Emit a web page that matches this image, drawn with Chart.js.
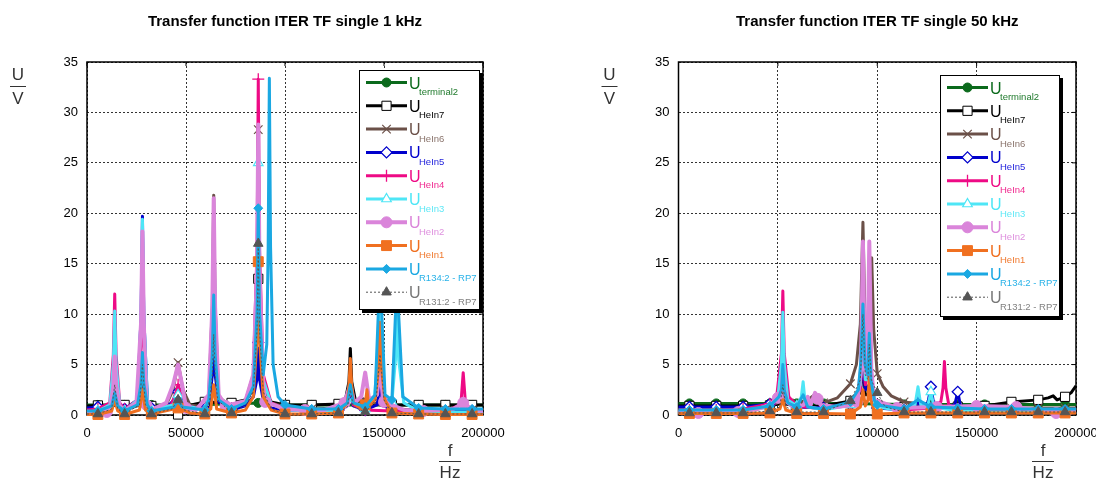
<!DOCTYPE html>
<html>
<head>
<meta charset="utf-8">
<title>Transfer function ITER TF single</title>
<script src="https://cdn.jsdelivr.net/npm/chart.js@4.4.1/dist/chart.umd.min.js"></script>
<style>
  html, body { margin: 0; padding: 0; background: #ffffff; }
  #page { position: relative; width: 1096px; height: 479px; overflow: hidden; }
  canvas { position: absolute; top: 0; }
  #c1k { left: 0; }
  #c50k { left: 548px; }
</style>
</head>
<body>
<div id="page">
  <canvas id="c1k" width="548" height="479"></canvas>
  <canvas id="c50k" width="548" height="479"></canvas>
</div>
<script>
const FONT = '"Liberation Sans", Arial, Helvetica, sans-serif';

// ---- axes ----
const freqTicks = [0, 50000, 100000, 150000, 200000];
const voltTicks = [0, 5, 10, 15, 20, 25, 30, 35];
const chartTitles = ['Transfer function ITER TF single 1 kHz', 'Transfer function ITER TF single 50 kHz'];
const seriesKeys = ['terminal2', 'HeIn7', 'HeIn6', 'HeIn5', 'HeIn4', 'HeIn3', 'HeIn2', 'HeIn1', 'R134:2 - RP7', 'R131:2 - RP7'];

// frequencies (Hz) at which the curve markers sit
const markerFreqs = [5500, 19000, 32500, 46000, 59500, 73000, 86500, 100000, 113500, 127000, 140500, 154000, 167500, 181000, 194500];
const markerFreqsHeIn2 = [10000, 30000, 50000, 70000, 90000, 110000, 130000, 150000, 170000, 190000];

// ---- 1 kHz excitation: [f / Hz, U / V] ----
const u1k_terminal2 = [[0,1.0],[5500,1.0],[19000,1.0],[32500,1.0],[46000,1.0],[59500,1.05],[73000,1.1],[86500,1.2],[100000,1.0],[113500,1.0],[127000,1.0],[140500,1.0],[154000,1.0],[167500,1.0],[181000,1.0],[194500,1.0],[200000,1.0]];
const u1k_HeIn7 = [[0,0.9],[5500,0.95],[19000,1.0],[32500,0.9],[44000,0.8],[46000,0.05],[48000,0.8],[59500,1.3],[73000,1.2],[80000,1.5],[84000,2.5],[85900,6.8],[86500,13.5],[87100,6.8],[89000,2.5],[93000,1.3],[100000,1.0],[113500,1.0],[127000,1.1],[130500,1.5],[132300,3.3],[133000,6.6],[133700,3.3],[135500,1.5],[140500,1.2],[154000,1.0],[167500,1.0],[181000,1.0],[194500,1.0],[200000,1.0]];
const u1k_HeIn6 = [[0,0.4],[5500,0.45],[11500,0.9],[13300,1.5],[14000,3.0],[14700,1.5],[16500,0.8],[19000,0.5],[25500,0.9],[27300,2.0],[28000,4.0],[28700,2.0],[30500,0.9],[32500,0.6],[40000,1.0],[43500,2.5],[46000,5.2],[48500,2.5],[52000,1.0],[59500,0.8],[61500,1.8],[63300,10.9],[64000,21.8],[64700,10.9],[66500,1.8],[73000,0.8],[80000,1.2],[84000,2.8],[85900,14.0],[86500,28.3],[87100,14.0],[89000,2.8],[93000,1.2],[100000,0.8],[113500,0.6],[127000,0.7],[131000,1.2],[133000,4.0],[135000,1.2],[140500,1.5],[154000,0.6],[167500,0.5],[181000,0.5],[194500,0.5],[200000,0.5]];
const u1k_HeIn5 = [[0,0.7],[5500,0.8],[11500,1.0],[13300,2.5],[14000,5.0],[14700,2.5],[16500,0.9],[19000,0.6],[25500,1.5],[27300,9.8],[28000,19.7],[28700,9.8],[30500,1.5],[32500,0.7],[41000,0.9],[44000,1.5],[46000,2.3],[48000,1.5],[52000,0.8],[59500,0.6],[62000,1.5],[63300,4.0],[64000,8.0],[64700,4.0],[66500,1.3],[73000,0.5],[80000,0.9],[84000,1.8],[85900,3.6],[86500,7.2],[87100,3.6],[89000,1.5],[93000,0.7],[100000,0.5],[113500,0.4],[127000,0.5],[131500,0.9],[133000,2.0],[134500,0.9],[140500,0.5],[146500,1.0],[148000,3.0],[149500,1.0],[154000,0.5],[167500,0.4],[181000,0.4],[194500,0.4],[200000,0.4]];
const u1k_HeIn4 = [[0,0.5],[5500,0.6],[11500,1.2],[13300,6.0],[14000,12.0],[14700,6.0],[16500,1.2],[19000,0.6],[25500,1.5],[27300,7.0],[28000,14.0],[28700,7.0],[30500,1.4],[32500,0.6],[42500,1.0],[44500,2.0],[46000,3.0],[47500,2.0],[50000,0.9],[59500,0.6],[61500,1.8],[63300,7.5],[64000,15.0],[64700,7.5],[66500,1.6],[73000,0.7],[80000,1.4],[84000,4.0],[85900,16.6],[86500,33.3],[87100,16.6],[89000,4.0],[93000,1.2],[100000,0.6],[113500,0.4],[127000,0.5],[131500,1.0],[133000,3.0],[134500,1.0],[140500,0.5],[154000,0.4],[167500,0.4],[181000,0.4],[188800,1.0],[190000,4.2],[191200,1.0],[194500,0.4],[200000,0.4]];
const u1k_HeIn3 = [[0,0.3],[5500,0.4],[11500,1.0],[13300,5.1],[14000,10.3],[14700,5.1],[16500,1.0],[19000,0.4],[25500,1.5],[27300,9.7],[28000,19.4],[28700,9.7],[30500,1.5],[32500,0.5],[43500,1.0],[46000,2.0],[48500,1.0],[59500,0.5],[61500,1.8],[63300,9.5],[64000,19.0],[64700,9.5],[66500,1.8],[73000,0.6],[80000,1.3],[84000,3.5],[85900,12.5],[86500,25.0],[87100,12.5],[89000,3.5],[93000,1.1],[100000,0.5],[113500,0.4],[127000,0.4],[133000,1.5],[140500,0.6],[145000,1.5],[146800,5.5],[147500,11.0],[148200,5.5],[150500,1.5],[154000,1.3],[155800,5.5],[156600,11.0],[157400,5.5],[160000,1.2],[167500,0.4],[181000,0.3],[194500,0.3],[200000,0.3]];
const u1k_HeIn2 = [[0,0.2],[10000,0.3],[12000,1.0],[13300,2.9],[14000,5.8],[14700,2.9],[16500,0.9],[19000,0.4],[25000,1.2],[27300,9.1],[28000,18.2],[28700,9.1],[30000,1.0],[32500,0.5],[40000,1.2],[43500,3.0],[46000,5.0],[48500,2.5],[50000,0.7],[55000,0.5],[61500,2.0],[63300,10.7],[64000,21.5],[64700,10.7],[66500,2.0],[70000,0.9],[80000,1.4],[84000,4.0],[85900,14.4],[86500,28.8],[87100,14.4],[89000,3.0],[90000,1.3],[100000,0.6],[110000,0.5],[120000,0.5],[130000,1.2],[133000,3.0],[135000,1.2],[138500,1.8],[140500,4.2],[142500,1.5],[146500,2.0],[148000,5.0],[149500,1.5],[150000,1.3],[160000,0.5],[170000,0.4],[185000,0.6],[190000,1.2],[195000,0.5],[200000,0.4]];
const u1k_HeIn1 = [[0,0.05],[5500,0.05],[12500,0.4],[14000,1.5],[15500,0.4],[19000,0.05],[26500,0.5],[28000,2.5],[29500,0.5],[32500,0.1],[46000,0.7],[52000,0.2],[59500,0.1],[62500,0.6],[64000,3.0],[65500,0.6],[73000,0.2],[80000,0.5],[84000,1.8],[85900,7.6],[86500,15.2],[87100,7.6],[89000,1.8],[93000,0.5],[100000,0.1],[113500,0.1],[127000,0.2],[131500,1.2],[132300,2.8],[133000,5.6],[133700,2.8],[134500,1.2],[138500,0.6],[140500,1.0],[141400,2.5],[142300,0.8],[145500,1.5],[147300,4.6],[148000,9.2],[148700,4.6],[150500,1.5],[154000,0.2],[167500,0.1],[181000,0.05],[194500,0.05],[200000,0.05]];
const u1k_R134 = [[0,0.4],[5500,0.4],[12500,0.9],[14000,2.2],[15500,0.9],[19000,0.4],[25500,1.0],[27300,3.1],[28000,6.2],[28700,3.1],[30500,1.0],[32500,0.4],[44000,0.8],[46000,1.5],[48000,0.8],[59500,0.5],[61500,1.5],[63300,6.0],[64000,11.9],[64700,6.0],[66500,1.5],[73000,0.6],[80000,1.2],[84000,2.8],[85900,10.3],[86500,20.5],[87100,10.3],[89000,4.0],[90800,7.0],[91500,16.7],[92100,33.4],[92700,16.7],[94000,5.0],[96500,1.8],[100000,1.0],[113500,0.6],[127000,0.6],[131500,1.2],[133000,3.0],[134500,1.2],[140500,0.8],[145500,2.0],[147300,11.0],[148000,22.0],[148700,11.0],[150500,2.0],[154000,1.5],[155800,10.0],[156600,20.0],[157400,10.0],[159500,1.8],[167500,0.7],[181000,0.6],[194500,0.6],[200000,0.6]];
const u1k_R131 = [[0,0.1],[5500,0.1],[12500,0.6],[14000,3.0],[15500,0.6],[19000,0.1],[26500,1.0],[28000,5.0],[29500,1.0],[32500,0.1],[43000,0.6],[46000,1.5],[49000,0.5],[59500,0.1],[62000,1.5],[63300,4.0],[64000,8.0],[64700,4.0],[66000,1.5],[73000,0.2],[80000,0.9],[84000,2.3],[85900,8.5],[86500,17.0],[87100,8.5],[89000,2.3],[93000,0.6],[100000,0.1],[113500,0.1],[127000,0.2],[131500,0.8],[133000,2.5],[134500,0.8],[140500,0.3],[146000,1.5],[148000,6.0],[150000,1.5],[154000,0.2],[167500,0.1],[181000,0.1],[194500,0.1],[200000,0.1]];

// ---- 50 kHz excitation: [f / Hz, U / V] ----
const u50k_terminal2 = [[0,1.15],[5500,1.15],[19000,1.15],[32500,1.15],[46000,1.15],[59500,1.15],[73000,1.15],[86500,1.15],[100000,1.1],[113500,1.05],[127000,1.05],[140500,1.05],[154000,1.05],[167500,1.05],[181000,1.05],[194500,1.05],[200000,1.05]];
const u50k_HeIn7 = [[0,0.9],[5500,0.9],[19000,0.9],[32500,0.9],[46000,0.95],[51000,1.1],[52500,1.6],[54000,1.1],[59500,0.9],[73000,0.9],[86500,1.4],[91500,2.2],[92800,5.0],[94000,2.0],[96000,2.0],[98000,1.3],[100000,1.0],[113500,0.8],[127000,0.8],[140500,0.8],[154000,0.9],[167500,1.3],[181000,1.5],[186000,1.7],[188500,1.9],[190500,1.5],[194500,1.8],[197500,2.2],[200000,2.9]];
const u50k_HeIn6 = [[0,0.6],[5500,0.6],[19000,0.6],[32500,0.7],[46000,0.9],[51000,1.3],[52500,2.5],[54000,1.3],[59500,1.2],[65000,1.5],[68500,2.0],[73000,1.2],[80000,1.7],[86500,3.1],[89500,5.0],[91500,9.0],[92800,19.1],[94000,8.0],[95300,6.5],[96200,9.0],[97200,15.6],[98200,8.5],[100000,4.1],[103000,2.8],[107000,1.9],[113500,1.3],[127000,1.0],[140500,0.9],[154000,0.7],[167500,0.7],[181000,0.7],[194500,0.7],[200000,0.7]];
const u50k_HeIn5 = [[0,0.8],[5500,0.8],[19000,0.8],[32500,0.8],[46000,1.1],[50500,2.0],[52500,4.0],[54500,1.5],[59500,0.8],[73000,0.7],[86500,1.0],[91500,2.5],[92800,5.2],[94000,2.5],[96000,3.0],[98000,1.2],[100000,0.7],[113500,0.5],[119500,1.0],[120500,2.0],[121500,0.8],[125500,1.2],[127000,2.8],[128500,1.0],[133500,0.8],[139000,1.0],[140500,2.3],[142000,0.8],[154000,0.4],[167500,0.4],[181000,0.4],[194500,0.4],[200000,0.4]];
const u50k_HeIn4 = [[0,0.5],[5500,0.5],[19000,0.5],[32500,0.6],[46000,1.1],[49500,2.0],[51800,6.1],[52500,12.3],[53200,6.1],[55500,1.8],[59500,0.9],[73000,0.6],[86500,1.2],[91500,2.5],[92800,7.0],[94000,3.0],[95300,4.3],[96000,8.7],[96700,4.3],[98500,1.5],[100000,1.0],[113500,0.5],[127000,0.7],[132000,1.3],[133100,2.7],[133800,5.3],[134500,2.7],[136000,1.0],[140500,0.6],[154000,0.4],[167500,0.4],[181000,0.4],[194500,0.4],[200000,0.4]];
const u50k_HeIn3 = [[0,0.3],[5500,0.3],[19000,0.3],[32500,0.4],[46000,0.8],[50000,1.8],[51800,5.1],[52500,10.2],[53200,5.1],[55000,1.5],[59500,0.9],[61800,1.8],[62700,3.3],[63600,1.5],[66000,0.8],[73000,0.5],[86500,1.0],[91500,3.0],[92800,9.0],[94000,3.5],[95300,3.5],[96000,8.0],[96700,3.5],[98500,1.2],[100000,0.8],[113500,0.4],[119000,1.0],[120500,2.8],[122000,0.9],[125500,1.0],[127000,2.3],[128500,0.8],[140500,0.4],[154000,0.3],[167500,0.3],[181000,0.3],[194500,0.3],[200000,0.3]];
const u50k_HeIn2 = [[0,0.3],[10000,0.2],[20000,0.3],[30000,0.3],[40000,0.6],[46000,1.0],[50000,1.7],[51800,2.5],[52500,4.5],[53200,2.5],[55000,1.2],[58000,0.8],[63000,1.0],[65000,1.8],[66500,1.0],[68700,2.2],[70000,1.6],[71500,1.0],[80000,0.8],[87000,1.0],[90000,1.3],[91800,4.5],[92800,17.2],[93800,4.5],[95000,4.0],[96000,17.2],[97000,4.5],[98500,1.5],[110000,0.7],[130000,0.8],[150000,0.9],[170000,0.8],[190000,0.2],[200000,0.3]];
const u50k_HeIn1 = [[0,0.15],[5500,0.15],[19000,0.15],[32500,0.15],[46000,0.2],[51000,0.6],[52500,1.5],[54000,0.5],[59500,0.15],[73000,0.15],[86500,0.1],[91500,0.8],[92800,2.5],[94000,0.9],[95300,1.5],[96000,3.8],[96700,1.5],[98500,0.4],[100000,0.1],[113500,0.2],[127000,0.2],[140500,0.2],[154000,0.2],[167500,0.2],[181000,0.2],[194500,0.2],[200000,0.2]];
const u50k_R134 = [[0,0.5],[5500,0.5],[19000,0.5],[32500,0.5],[46000,0.9],[50500,1.8],[51800,2.5],[52500,5.0],[53200,2.5],[55000,1.2],[59500,0.8],[62700,2.0],[65000,0.8],[73000,0.6],[86500,1.3],[90500,2.5],[91800,5.5],[92800,11.0],[93800,5.0],[95200,4.0],[96000,8.1],[96800,3.5],[98500,1.5],[100000,1.0],[113500,0.6],[120500,1.5],[127000,0.8],[140500,0.7],[154000,0.6],[167500,0.6],[181000,0.6],[194500,0.6],[200000,0.6]];
const u50k_R131 = [[0,0.2],[5500,0.2],[19000,0.2],[32500,0.2],[46000,0.4],[51000,0.8],[52500,3.0],[54000,0.8],[59500,0.3],[73000,0.3],[86500,1.4],[91500,3.5],[92800,10.0],[94000,4.0],[95300,3.5],[96000,7.0],[97000,3.5],[100000,2.2],[104000,0.8],[113500,0.3],[127000,0.3],[140500,0.3],[154000,0.3],[167500,0.3],[181000,0.3],[194500,0.3],[200000,0.3]];

// ---- look of each trace (same order as seriesKeys) ----
const looks = [
  { color: '#0b6a1c', style: 'circle',   r: 4.5, fill: '#0b6a1c', width: 3,   pw: 1 },
  { color: '#000000', style: 'rect',     r: 6.5, fill: '#ffffff', width: 3,   pw: 1 },
  { color: '#6b5048', style: 'crossRot', r: 6,   fill: null,      width: 3,   pw: 1.2 },
  { color: '#0000cc', style: 'rectRot',  r: 5.5, fill: '#ffffff', width: 3,   pw: 1.3 },
  { color: '#ee0a85', style: 'cross',    r: 6,   fill: null,      width: 3,   pw: 1.3 },
  { color: '#4ee6f6', style: 'triangle', r: 5.5, fill: '#ffffff', width: 3,   pw: 1.2 },
  { color: '#da85da', style: 'circle',   r: 5.5, fill: '#da85da', width: 4,   pw: 1 },
  { color: '#f07020', style: 'rect',     r: 7,   fill: '#f07020', width: 3,   pw: 1 },
  { color: '#1aa8e2', style: 'rectRot',  r: 4.5, fill: '#1aa8e2', width: 3,   pw: 1 },
  { color: '#555555', style: 'triangle', r: 5.5, fill: '#555555', width: 1,   pw: 1, dash: [2, 2] }
];
const legendTextColors = ['#1f7a2c', '#000000', '#8a746c', '#2424dc', '#f0288f', '#5ee8f6', '#de90de', '#f07a30', '#28b2e8', '#808080'];

function buildDatasets(seriesList) {
  return seriesList.map((pts, i) => {
    const lk = looks[i];
    const marks = new Set(i === 6 ? markerFreqsHeIn2 : markerFreqs);
    const data = pts.map(p => ({ x: p[0], y: p[1] })).sort((a, b) => a.x - b.x);
    return {
      label: seriesKeys[i],
      data,
      borderColor: lk.color,
      borderWidth: lk.width,
      borderDash: lk.dash || [],
      borderJoinStyle: 'round',
      borderCapStyle: 'butt',
      pointStyle: lk.style,
      pointRadius: ctx => (ctx.raw && marks.has(ctx.raw.x)) ? lk.r : 0,
      pointBackgroundColor: lk.fill || lk.color,
      pointBorderColor: lk.color,
      pointBorderWidth: lk.pw,
      tension: 0,
      fill: false,
      clip: false,
      order: seriesKeys.length - i
    };
  });
}

// small marker painter for the legend
function drawMarker(ctx, lk, x, y) {
  const r = lk.r;
  ctx.save();
  ctx.setLineDash([]);
  ctx.lineWidth = lk.pw;
  ctx.strokeStyle = lk.color;
  ctx.fillStyle = lk.fill || lk.color;
  ctx.beginPath();
  let closed = true;
  switch (lk.style) {
    case 'circle': ctx.arc(x, y, r, 0, Math.PI * 2); break;
    case 'rect': { const s = r * Math.SQRT1_2; ctx.rect(x - s, y - s, 2 * s, 2 * s); break; }
    case 'rectRot': ctx.moveTo(x, y - r); ctx.lineTo(x + r, y); ctx.lineTo(x, y + r); ctx.lineTo(x - r, y); ctx.closePath(); break;
    case 'triangle': ctx.moveTo(x, y - r); ctx.lineTo(x + r * 0.866, y + r * 0.5); ctx.lineTo(x - r * 0.866, y + r * 0.5); ctx.closePath(); break;
    case 'cross': closed = false; ctx.moveTo(x, y - r); ctx.lineTo(x, y + r); ctx.moveTo(x - r, y); ctx.lineTo(x + r, y); break;
    case 'crossRot': { closed = false; const d = r * Math.SQRT1_2; ctx.moveTo(x - d, y - d); ctx.lineTo(x + d, y + d); ctx.moveTo(x + d, y - d); ctx.lineTo(x - d, y + d); break; }
  }
  if (closed) ctx.fill();
  ctx.stroke();
  ctx.restore();
}

// frame, titles, unit fractions and the boxed legend
const decorPlugin = {
  id: 'decor',
  beforeDatasetsDraw(chart, args, opts) {
    const a = chart.chartArea, ctx = chart.ctx;
    ctx.save();
    ctx.strokeStyle = '#000';
    ctx.lineWidth = 1.5;
    ctx.strokeRect(a.left, a.top, a.right - a.left, a.bottom - a.top);
    // short inward ticks on the top and right edges
    ctx.lineWidth = 1;
    ctx.beginPath();
    const xs = chart.scales.x, ys = chart.scales.y;
    freqTicks.forEach(v => { const px = xs.getPixelForValue(v); ctx.moveTo(px, a.top); ctx.lineTo(px, a.top + 4); });
    voltTicks.forEach(v => { const py = ys.getPixelForValue(v); ctx.moveTo(a.right, py); ctx.lineTo(a.right - 4, py); });
    ctx.stroke();
    ctx.restore();
  },
  afterDraw(chart, args, opts) {
    const a = chart.chartArea, ctx = chart.ctx;
    ctx.save();
    // title
    ctx.fillStyle = '#000';
    ctx.font = 'bold 15px ' + FONT;
    ctx.textAlign = 'center';
    ctx.textBaseline = 'alphabetic';
    ctx.fillText(opts.title, (a.left + a.right) / 2, 26);

    // U / V on the value axis
    const ux = a.left - 69;
    ctx.font = '17px ' + FONT;
    ctx.fillStyle = '#333';
    ctx.fillText('U', ux, 80);
    ctx.fillText('V', ux, 104);
    ctx.strokeStyle = '#333';
    ctx.lineWidth = 1;
    ctx.beginPath(); ctx.moveTo(ux - 8, 86.5); ctx.lineTo(ux + 8, 86.5); ctx.stroke();

    // f / Hz on the frequency axis
    const fx = a.right - 33;
    ctx.fillText('f', fx, 456);
    ctx.fillText('Hz', fx, 478);
    ctx.beginPath(); ctx.moveTo(fx - 11, 461.5); ctx.lineTo(fx + 11, 461.5); ctx.stroke();

    // legend box with drop shadow
    const L = opts.legend;
    ctx.fillStyle = '#000';
    ctx.fillRect(L.x + 3, L.y + 3, L.w, L.h);
    ctx.fillStyle = '#fff';
    ctx.fillRect(L.x, L.y, L.w, L.h);
    ctx.strokeStyle = '#000';
    ctx.lineWidth = 1;
    ctx.strokeRect(L.x + 0.5, L.y + 0.5, L.w - 1, L.h - 1);

    seriesKeys.forEach((key, i) => {
      const lk = looks[i];
      const ly = L.y + 12.5 + i * 23.3;
      ctx.save();
      ctx.strokeStyle = lk.color;
      ctx.lineWidth = lk.width;
      ctx.setLineDash(lk.dash || []);
      ctx.beginPath(); ctx.moveTo(L.x + 7, ly); ctx.lineTo(L.x + 48, ly); ctx.stroke();
      ctx.restore();
      drawMarker(ctx, lk, L.x + 27.5, ly);
      ctx.textAlign = 'left';
      ctx.fillStyle = lk.color === '#555555' ? '#777777' : lk.color;
      ctx.font = '16px ' + FONT;
      ctx.fillText('U', L.x + 50, ly + 6);
      ctx.fillStyle = legendTextColors[i];
      ctx.font = '9.5px ' + FONT;
      ctx.fillText(key, L.x + 60, ly + 12.5);
    });
    ctx.restore();
  }
};

function makeChart(canvasId, seriesList, geo) {
  const tickFont = { family: FONT, size: 13 };
  return new Chart(document.getElementById(canvasId), {
    type: 'line',
    data: { datasets: buildDatasets(seriesList) },
    options: {
      responsive: false,
      animation: false,
      events: [],
      layout: { padding: { left: 0, right: geo.padRight, top: geo.top, bottom: 0 } },
      plugins: {
        legend: { display: false },
        tooltip: { enabled: false },
        title: { display: false },
        decor: geo
      },
      scales: {
        x: {
          type: 'linear', min: 0, max: 200000,
          afterBuildTicks: s => { s.ticks = freqTicks.map(v => ({ value: v })); },
          afterFit: s => { s.height = 64; s.paddingLeft = 0; s.paddingRight = 0; },
          ticks: { callback: v => String(v), font: tickFont, color: '#000', padding: 11, maxRotation: 0, autoSkip: false },
          grid: { color: '#333', lineWidth: 1, drawTicks: false },
          border: { display: false, dash: [2, 2] }
        },
        y: {
          type: 'linear', min: 0, max: 35,
          afterBuildTicks: s => { s.ticks = voltTicks.map(v => ({ value: v })); },
          afterFit: s => { s.width = geo.yAxisWidth; s.paddingTop = 0; s.paddingBottom = 0; },
          ticks: { callback: v => String(v), font: tickFont, color: '#000', padding: 9, autoSkip: false },
          grid: { color: '#333', lineWidth: 1, drawTicks: false },
          border: { display: false, dash: [2, 2] }
        }
      }
    },
    plugins: [decorPlugin]
  });
}

makeChart('c1k',
  [u1k_terminal2, u1k_HeIn7, u1k_HeIn6, u1k_HeIn5, u1k_HeIn4, u1k_HeIn3, u1k_HeIn2, u1k_HeIn1, u1k_R134, u1k_R131],
  { title: chartTitles[0], top: 62, padRight: 65, yAxisWidth: 87, legend: { x: 359, y: 70, w: 121, h: 240 } });

makeChart('c50k',
  [u50k_terminal2, u50k_HeIn7, u50k_HeIn6, u50k_HeIn5, u50k_HeIn4, u50k_HeIn3, u50k_HeIn2, u50k_HeIn1, u50k_R134, u50k_R131],
  { title: chartTitles[1], top: 62, padRight: 20, yAxisWidth: 130.5, legend: { x: 392, y: 75, w: 120, h: 242 } });
</script>
</body>
</html>
